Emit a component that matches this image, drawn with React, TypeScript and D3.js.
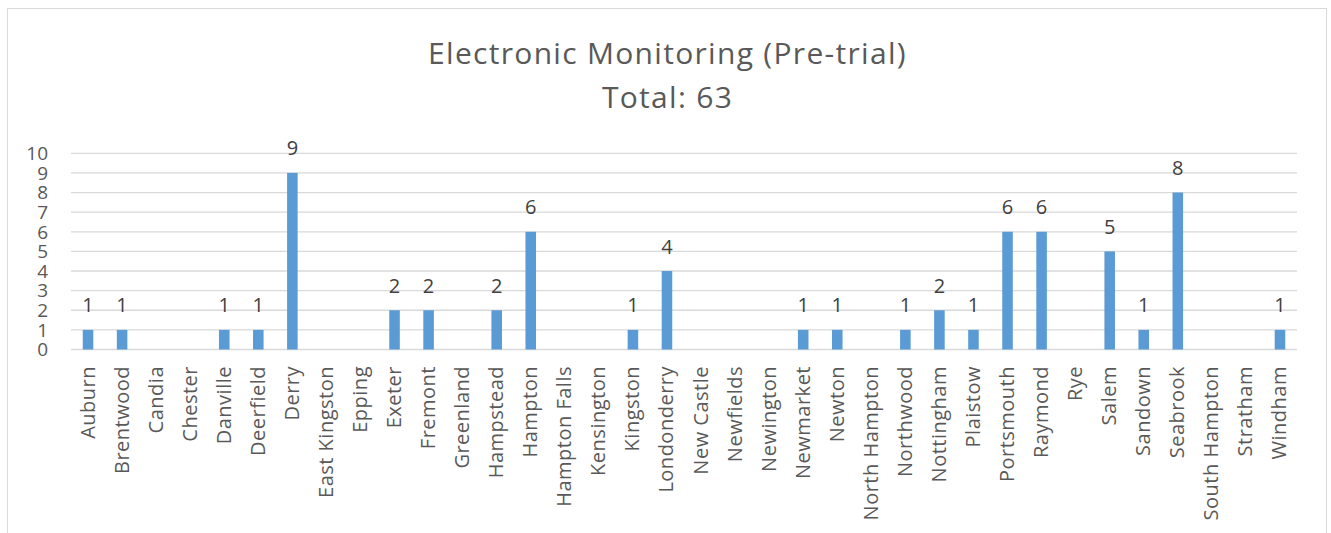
import React from "react";
import * as d3 from "d3";

const categories = ["Auburn","Brentwood","Candia","Chester","Danville","Deerfield","Derry","East Kingston","Epping","Exeter","Fremont","Greenland","Hampstead","Hampton","Hampton Falls","Kensington","Kingston","Londonderry","New Castle","Newfields","Newington","Newmarket","Newton","North Hampton","Northwood","Nottingham","Plaistow","Portsmouth","Raymond","Rye","Salem","Sandown","Seabrook","South Hampton","Stratham","Windham"];
const values = [1,1,0,0,1,1,9,0,0,2,2,0,2,6,0,0,1,4,0,0,0,1,1,0,1,2,1,6,6,0,5,1,8,0,0,1];
const yTicks = [0,1,2,3,4,5,6,7,8,9,10];
const titleLines = ["Electronic Monitoring (Pre-trial)", "Total: 63"];

const W = 1331, H = 533;
const left = 71, right = 1297, top = 153.3, bottom = 349.5;
const font = "'Open Sans', sans-serif";

export default function App() {
  const x = d3.scaleBand<string>().domain(categories).range([left, right]).paddingInner(0.69).paddingOuter(0.345);
  const y = d3.scaleLinear().domain([0, 10]).range([bottom, top]);
  return (
    <svg width={W} height={H} style={{ position: "absolute", left: 0, top: 0 }}>
      <rect x={0} y={0} width={W} height={H} fill="#fff" />
      <rect x={7.5} y={8.5} width={1319} height={540} fill="#fff" stroke="#D9D9D9" />
      {titleLines.map((t, i) => (
        <text key={i} x={667.5} y={63.5 + i * 44.5} textAnchor="middle" fontFamily={font} fontSize={30} letterSpacing={1.3} fill="#595959">{t}</text>
      ))}
      {yTicks.map(t => (
        <g key={t}>
          <line x1={left} x2={right} y1={y(t)} y2={y(t)} stroke="#D9D9D9" strokeWidth={1.3} />
          <text x={48} y={y(t) + 6.8} textAnchor="end" fontFamily={font} fontSize={19} fill="#595959">{t}</text>
        </g>
      ))}
      {categories.map((c, i) => {
        const cx = x(c)! + x.bandwidth() / 2;
        const v = values[i];
        return (
          <g key={c}>
            {v > 0 && <rect x={x(c)} y={y(v)} width={x.bandwidth()} height={y(0) - y(v)} fill="#5B9BD5" />}
            {v > 0 && <text x={cx} y={y(v) - 17.5} textAnchor="middle" fontFamily={font} fontSize={20} fill="#404040">{v}</text>}
            <text transform={`translate(${cx + 6.5},${366}) rotate(-90)`} textAnchor="end" fontFamily={font} fontSize={20} letterSpacing={0.5} fill="#595959">{c}</text>
          </g>
        );
      })}
    </svg>
  );
}
